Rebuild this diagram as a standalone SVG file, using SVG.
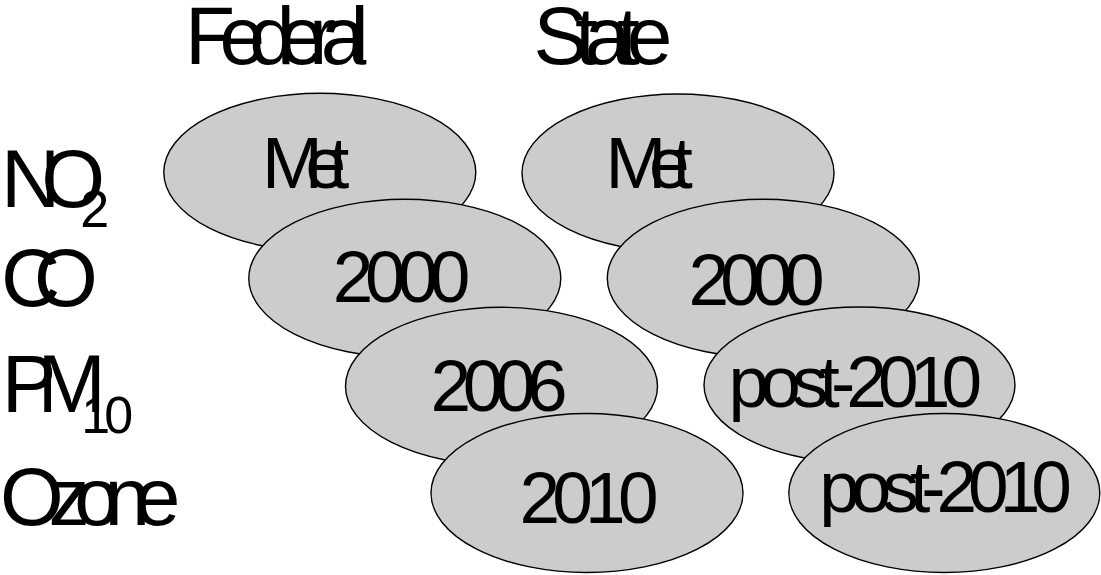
<svg xmlns="http://www.w3.org/2000/svg" width="1101" height="575" viewBox="0 0 1101 575">
<style>
.bg{fill:#ffffff}
.oval{fill:#cccccc;stroke:#000000;stroke-width:1.4}
.big{font-family:"Liberation Sans",Arial,sans-serif;font-size:82px;fill:#000000}
.sub{font-family:"Liberation Sans",Arial,sans-serif;font-size:52px;fill:#000000}
.lbl{font-family:"Liberation Sans",Arial,sans-serif;font-size:73px;fill:#000000}
</style>
<rect class="bg" x="0" y="0" width="1101" height="575"/>
<g id="headers">
<text class="big" x="185" y="64.3" letter-spacing="-15.7">Federal</text>
<text class="big" x="533.6" y="64.3" letter-spacing="-13.2">State</text>
</g>
<g id="rows">
<text class="big" x="1.1" y="207.3" letter-spacing="-19"><tspan>NO</tspan><tspan class="sub" x="80.2" y="227.3">2</tspan></text>
<text class="big" x="0.9" y="305.5" letter-spacing="-26">CO</text>
<text class="big" x="1.7" y="412.3" letter-spacing="-19"><tspan>PM</tspan><tspan class="sub" x="81.3" y="433.3" letter-spacing="-6">10</tspan></text>
<text class="big" x="0" y="525" letter-spacing="-15.3">Ozone</text>
</g>
<g id="connectors"></g>
<g id="fed-no2">
<ellipse class="oval" cx="319.8" cy="172.3" rx="156" ry="79"/>
<text class="lbl" x="261.9" y="188.3" letter-spacing="-17.1">Met</text>
</g>
<g id="fed-co">
<ellipse class="oval" cx="404.8" cy="278.3" rx="156" ry="79"/>
<text class="lbl" x="332.8" y="301.7" letter-spacing="-8.3">2000</text>
</g>
<g id="fed-pm10">
<ellipse class="oval" cx="501.5" cy="386.3" rx="156" ry="79"/>
<text class="lbl" x="430.5" y="411" letter-spacing="-8.4">2006</text>
</g>
<g id="fed-ozone">
<ellipse class="oval" cx="587" cy="493" rx="156" ry="79.5"/>
<text class="lbl" x="519.5" y="522.7" letter-spacing="-7.8">2010</text>
</g>
<g id="state-no2">
<ellipse class="oval" cx="678" cy="173" rx="156" ry="79"/>
<text class="lbl" x="605.6" y="188.3" letter-spacing="-17.3">Met</text>
</g>
<g id="state-co">
<ellipse class="oval" cx="763.3" cy="278.3" rx="156" ry="79"/>
<text class="lbl" x="688.5" y="305" letter-spacing="-8.8">2000</text>
</g>
<g id="state-pm10">
<ellipse class="oval" cx="859.5" cy="385" rx="155.5" ry="78"/>
<text class="lbl" x="728.5" y="406.7" letter-spacing="-8.9">post-2010</text>
</g>
<g id="state-ozone">
<ellipse class="oval" cx="944.3" cy="493" rx="155.5" ry="79.5"/>
<text class="lbl" x="819.2" y="511.7" letter-spacing="-9">post-2010</text>
</g>
</svg>
